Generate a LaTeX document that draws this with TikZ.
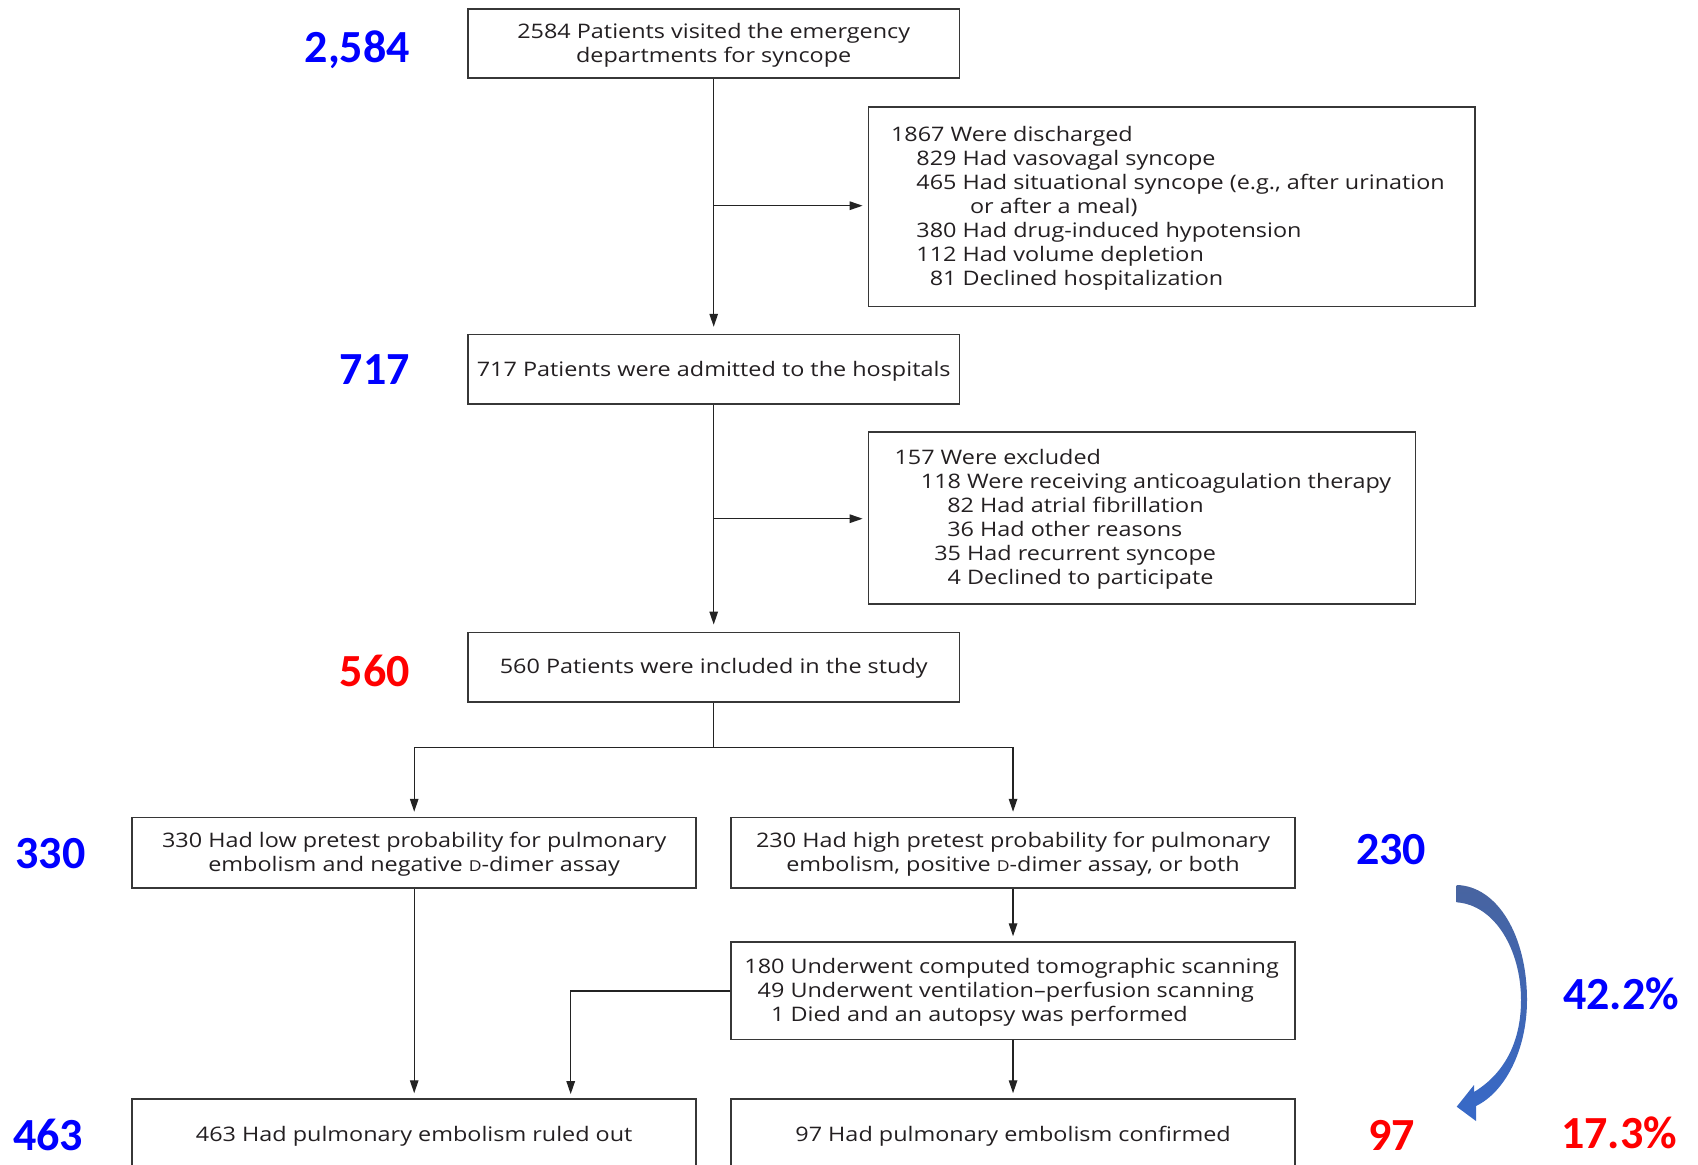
\documentclass[tikz,border=0pt]{standalone}
\usepackage{fontspec}
\usetikzlibrary{arrows.meta}
\newfontfamily\flowfont[FakeStretch=1.17]{Open Sans}
\newfontfamily\numfont{Carlito}
\definecolor{lblblue}{RGB}{0,0,255}
\definecolor{lblred}{RGB}{255,0,0}
\definecolor{boxline}{RGB}{55,55,55}
\definecolor{conn}{RGB}{35,35,35}
\definecolor{txt}{RGB}{35,31,33}
\newcommand\sD{{\fontsize{15}{15}\selectfont D}}
\newcommand\nm[2]{\makebox[#1pt][r]{#2}}
\newcommand\dn[1]{\raisebox{0pt}[\dimexpr\height+4pt\relax][\depth]{#1}}
\newcommand\ctr[1]{\dn{\begin{tabular}{@{}c@{}}#1\end{tabular}}}
\newcommand\lst[2]{\dn{\makebox[#1pt][l]{\begin{tabular}{@{}l@{}}#2\end{tabular}}}}
\begin{document}
\begin{tikzpicture}[x=1pt,y=-1pt,
  box/.style={draw=boxline, line width=1.7pt, rectangle, inner sep=0pt,
    font=\flowfont\fontsize{20}{24}\selectfont, text=txt, align=center},
  arr/.style={draw=conn, line width=1.4pt, -{Triangle[length=13pt,width=8.5pt]}, shorten >=5pt},
  ln/.style={draw=conn, line width=1.4pt},
  big/.style={font=\numfont\bfseries\fontsize{46}{46}\selectfont, inner sep=0pt},
  bl/.style={big, text=lblblue},
  rd/.style={big, text=lblred},
]
\path[use as bounding box] (0,0) rectangle (1698,1165);
\clip (0,0) rectangle (1698,1165);

% boxes
\node[box, minimum width=491.5pt, minimum height=69.3pt] (b1) at (713.7,43.4)
  {\ctr{2584 Patients visited the emergency\\departments for syncope}};
\node[box, inner xsep=22.5pt, minimum width=606.5pt, minimum height=199.3pt] (b2) at (1171.75,206.85)
  {\lst{561.5}{1867 Were discharged\\
   \nm{65.5}{829} Had vasovagal syncope\\
   \nm{65.5}{465} Had situational syncope (e.g., after urination\\
   \hspace*{79pt}or after a meal)\\
   \nm{65.5}{380} Had drug-induced hypotension\\
   \nm{65.5}{112} Had volume depletion\\
   \nm{65.5}{81} Declined hospitalization}};
\node[box, minimum width=491.5pt, minimum height=69.4pt] (b3) at (713.7,369.3)
  {\ctr{717 Patients were admitted to the hospitals}};
\node[box, inner xsep=26pt, minimum width=546.9pt, minimum height=172.3pt] (b4) at (1141.95,518.15)
  {\lst{494.9}{157 Were excluded\\
   \nm{66.5}{118} Were receiving anticoagulation therapy\\
   \nm{79.5}{82} Had atrial fibrillation\\
   \nm{79.5}{36} Had other reasons\\
   \nm{66.5}{35} Had recurrent syncope\\
   \nm{66.5}{4} Declined to participate}};
\node[box, minimum width=491.5pt, minimum height=69.3pt] (b5) at (713.7,667.05)
  {\ctr{560 Patients were included in the study}};
\node[box, minimum width=564.2pt, minimum height=70.4pt] (b6) at (414.2,852.8)
  {\ctr{330 Had low pretest probability for pulmonary\\embolism and negative \sD-dimer assay}};
\node[box, minimum width=564.1pt, minimum height=70.4pt] (b7) at (1013.05,852.8)
  {\ctr{230 Had high pretest probability for pulmonary\\embolism, positive \sD-dimer assay, or both}};
\node[box, inner xsep=14pt, minimum width=564.1pt, minimum height=97.5pt] (b8) at (1013.05,990.85)
  {\lst{536.1}{\nm{39.5}{180} Underwent computed tomographic scanning\\
   \nm{39.5}{49} Underwent ventilation–perfusion scanning\\
   \nm{39.5}{1} Died and an autopsy was performed}};
\node[box, minimum width=564.2pt, minimum height=70.8pt] (b9) at (414.2,1134.5)
  {\ctr{463 Had pulmonary embolism ruled out}};
\node[box, minimum width=564.1pt, minimum height=70.8pt] (b10) at (1013.05,1134.5)
  {\ctr{97 Had pulmonary embolism confirmed}};

% connectors
\coordinate (j1) at (713.7,205.7);
\coordinate (j2) at (713.7,518.7);
\coordinate (j3) at (713.7,747.2);
\coordinate (j4) at (570.7,1099.1);
\draw[arr, shorten >=7pt] (b1.south) -- (b3.north);
\draw[arr] (j1) -- (j1 -| b2.west);
\draw[arr, shorten >=7pt] (b3.south) -- (b5.north);
\draw[arr] (j2) -- (j2 -| b4.west);
\draw[ln] (b5.south) -- (j3);
\draw[arr] (j3) -| (b6.north);
\draw[arr] (j3) -| (b7.north);
\draw[arr] (b6.south) -- (b9.north);
\draw[arr] (b7.south) -- (b8.north);
\draw[arr] (b8.south) -- (b10.north);
\draw[arr] (b8.west) -| (j4);

% big labels
\node[bl, anchor=base east] (n2584) at (410,62.7) {2,584};
\node[bl, anchor=base east] (n717) at (410,384.4) {717};
\node[rd, anchor=base east] (n560) at (410,686.6) {560};
\node[bl, anchor=base west] (n330) at (15.2,868.5) {330};
\node[bl, anchor=base west] (n463) at (13,1150) {463};
\node[bl, anchor=base west] (n230) at (1355.8,864.2) {230};
\node[rd, anchor=base west] (n97) at (1368,1150) {97};
\node[bl, anchor=base west] (p422) at (1563,1009.3) {42.2\%};
\node[rd, anchor=base west] (p173) at (1561,1148) {17.3\%};

% curved arrow
\shade[top color={rgb,255:red,72;green,100;blue,160}, bottom color={rgb,255:red,55;green,105;blue,200}]
  (1456.7,885) .. controls (1497,886) and (1527,935) .. (1527,1000)
  .. controls (1527,1050) and (1505,1092) .. (1476,1106)
  -- (1476,1121) -- (1456.7,1106.7) -- (1474,1085) -- (1474,1092)
  .. controls (1502,1075) and (1521,1045) .. (1521,1000)
  .. controls (1521,950) and (1495,905) .. (1456.7,902.3) -- cycle;
\end{tikzpicture}
\end{document}
